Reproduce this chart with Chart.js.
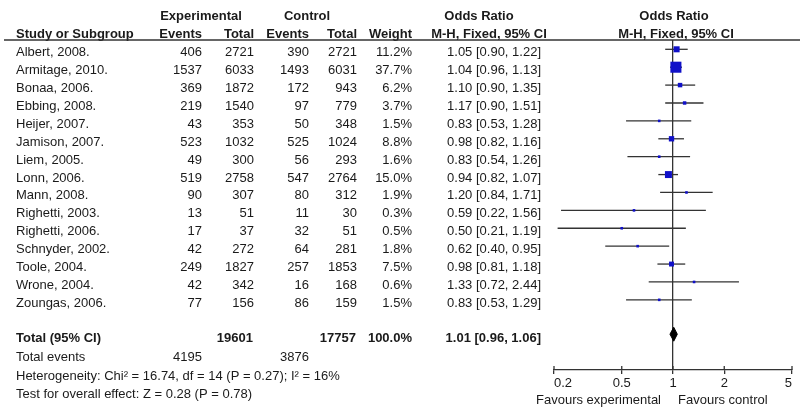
<!DOCTYPE html>
<html>
<head>
<meta charset="utf-8">
<script src="https://cdn.jsdelivr.net/npm/chart.js@4"></script>
<style>
  body { margin: 0; background: #fff; }
  #wrap { width: 800px; height: 416px; }
</style>
</head>
<body>
<div id="wrap"><canvas id="forest"></canvas></div>
<script>
// 研究ごとのデータ
const studies = ['Albert, 2008.', 'Armitage, 2010.', 'Bonaa, 2006.', 'Ebbing, 2008.', 'Heijer, 2007.',
  'Jamison, 2007.', 'Liem, 2005.', 'Lonn, 2006.', 'Mann, 2008.', 'Righetti, 2003.',
  'Righetti, 2006.', 'Schnyder, 2002.', 'Toole, 2004.', 'Wrone, 2004.', 'Zoungas, 2006.'];
const expEvents = [406, 1537, 369, 219, 43, 523, 49, 519, 90, 13, 17, 42, 249, 42, 77];
const expTotal = [2721, 6033, 1872, 1540, 353, 1032, 300, 2758, 307, 51, 37, 272, 1827, 342, 156];
const ctrlEvents = [390, 1493, 172, 97, 50, 525, 56, 547, 80, 11, 32, 64, 257, 16, 86];
const ctrlTotal = [2721, 6031, 943, 779, 348, 1024, 293, 2764, 312, 30, 51, 281, 1853, 168, 159];
const weights = [11.2, 37.7, 6.2, 3.7, 1.5, 8.8, 1.6, 15.0, 1.9, 0.3, 0.5, 1.8, 7.5, 0.6, 1.5];
const oddsRatio = [1.05, 1.04, 1.10, 1.17, 0.83, 0.98, 0.83, 0.94, 1.20, 0.59, 0.50, 0.62, 0.98, 1.33, 0.83];
const ciLower = [0.90, 0.96, 0.90, 0.90, 0.53, 0.82, 0.54, 0.82, 0.84, 0.22, 0.21, 0.40, 0.81, 0.72, 0.53];
const ciUpper = [1.22, 1.13, 1.35, 1.51, 1.28, 1.16, 1.26, 1.07, 1.71, 1.56, 1.19, 0.95, 1.18, 2.44, 1.29];

// 合計
const totalExp = 19601, totalCtrl = 17757;
const totalExpEvents = 4195, totalCtrlEvents = 3876;
const pooled = [1.01, 0.96, 1.06]; // OR, 下限, 上限
const xTicks = [0.2, 0.5, 1, 2, 5];

const totalRow = 15.92; // ダイヤモンドの行位置
const FONT = '"Liberation Sans", Arial, sans-serif';
const TEXT = '#1a1a1a';

// 信頼区間の線（研究ごとに1本）
const ciSets = studies.map((s, i) => ({
  type: 'line',
  data: [{ x: ciLower[i], y: i }, { x: ciUpper[i], y: i }],
  borderColor: '#333',
  borderWidth: 1.3,
  pointRadius: 0,
  order: 2
}));

const fmt = v => v.toFixed(2);

// 表のテキストを描くプラグイン
const tablePlugin = {
  id: 'table',
  afterDraw(chart) {
    const c = chart.ctx;
    const ys = chart.scales.y, xs = chart.scales.x;
    const top = chart.chartArea.top;
    c.save();
    c.fillStyle = TEXT;
    c.textBaseline = 'middle';

    const txt = (s, x, y, align, bold) => {
      c.font = (bold ? 'bold ' : '') + '13px ' + FONT;
      c.textAlign = align;
      c.fillText(s, x, y);
    };

    // 見出し
    txt('Experimental', 201, 16, 'center', true);
    txt('Control', 307, 16, 'center', true);
    txt('Odds Ratio', 479, 16, 'center', true);
    txt('Odds Ratio', 674, 16, 'center', true);
    txt('Study or Subgroup', 16, 34, 'left', true);
    txt('Events', 202, 34, 'right', true);
    txt('Total', 254, 34, 'right', true);
    txt('Events', 309, 34, 'right', true);
    txt('Total', 357, 34, 'right', true);
    txt('Weight', 412, 34, 'right', true);
    txt('M-H, Fixed, 95% CI', 489, 34, 'center', true);
    txt('M-H, Fixed, 95% CI', 676, 34, 'center', true);

    // 見出しの下線
    c.strokeStyle = '#333';
    c.lineWidth = 1.3;
    c.beginPath();
    c.moveTo(4, top);
    c.lineTo(800, top);
    c.stroke();

    // 各研究の行
    studies.forEach((s, i) => {
      const y = ys.getPixelForValue(i) + 3.4;
      txt(s, 16, y, 'left');
      txt(String(expEvents[i]), 202, y, 'right');
      txt(String(expTotal[i]), 254, y, 'right');
      txt(String(ctrlEvents[i]), 309, y, 'right');
      txt(String(ctrlTotal[i]), 357, y, 'right');
      txt(weights[i].toFixed(1) + '%', 412, y, 'right');
      txt(fmt(oddsRatio[i]) + ' [' + fmt(ciLower[i]) + ', ' + fmt(ciUpper[i]) + ']', 541, y, 'right');
    });

    // 合計行
    const yt = ys.getPixelForValue(totalRow) + 4;
    txt('Total (95% CI)', 16, yt, 'left', true);
    txt(String(totalExp), 253, yt, 'right', true);
    txt(String(totalCtrl), 356, yt, 'right', true);
    txt('100.0%', 412, yt, 'right', true);
    txt(fmt(pooled[0]) + ' [' + fmt(pooled[1]) + ', ' + fmt(pooled[2]) + ']', 541, yt, 'right', true);
    txt('Total events', 16, yt + 19, 'left');
    txt(String(totalExpEvents), 202, yt + 19, 'right');
    txt(String(totalCtrlEvents), 309, yt + 19, 'right');
    txt('Heterogeneity: Chi\u00B2 = 16.74, df = 14 (P = 0.27); I\u00B2 = 16%', 16, yt + 38, 'left');
    txt('Test for overall effect: Z = 0.28 (P = 0.78)', 16, yt + 56, 'left');

    // 軸の上向き目盛り
    const bottom = chart.chartArea.bottom;
    c.lineWidth = 1.3;
    xTicks.forEach(t => {
      const x = xs.getPixelForValue(t);
      c.beginPath();
      c.moveTo(x, bottom - 4);
      c.lineTo(x, bottom);
      c.stroke();
    });

    // 軸の下の説明
    const x1 = xs.getPixelForValue(1);
    txt('Favours experimental', x1 - 12, 400, 'right');
    txt('Favours control', x1 + 5, 400, 'left');
    c.restore();
  }
};

const ctx = document.getElementById('forest').getContext('2d');
new Chart(ctx, {
  data: {
    datasets: [
      {
        type: 'scatter',
        data: studies.map((s, i) => ({ x: oddsRatio[i], y: i })),
        pointStyle: 'rect',
        pointRadius: weights.map(w => Math.max(2.6, 1.8 * Math.sqrt(w)) / Math.SQRT2),
        backgroundColor: '#1010c8',
        borderWidth: 0,
        order: 0
      },
      {
        type: 'line',
        data: [
          { x: pooled[1], y: totalRow },
          { x: pooled[0], y: totalRow - 0.39 },
          { x: pooled[2], y: totalRow },
          { x: pooled[0], y: totalRow + 0.39 },
          { x: pooled[1], y: totalRow }
        ],
        borderColor: '#000',
        backgroundColor: '#000',
        borderWidth: 1,
        pointRadius: 0,
        tension: 0,
        fill: 'shape',
        order: 1
      },
      ...ciSets
    ]
  },
  options: {
    responsive: true,
    maintainAspectRatio: false,
    animation: false,
    layout: { padding: { left: 554, right: 8, top: 40, bottom: 0 } },
    plugins: { legend: { display: false }, tooltip: { enabled: false } },
    scales: {
      x: {
        type: 'logarithmic',
        min: 0.2,
        max: 5,
        afterBuildTicks: scale => { scale.ticks = xTicks.map(v => ({ value: v })); },
        afterFit: scale => { scale.height = 46; },
        grid: {
          color: c => (c.tick && c.tick.value === 1 ? '#333' : 'rgba(0,0,0,0)'),
          lineWidth: 1.3,
          drawTicks: true,
          tickLength: 4,
          tickColor: '#333'
        },
        border: { display: true, color: '#333', width: 1.3 },
        ticks: {
          color: TEXT,
          padding: 2,
          align: 'inner',
          maxRotation: 0,
          font: { family: FONT, size: 13 },
          callback: v => String(v)
        }
      },
      y: {
        type: 'linear',
        display: false,
        reverse: true,
        min: -0.52,
        max: 17.92
      }
    }
  },
  plugins: [tablePlugin]
});
</script>
</body>
</html>
